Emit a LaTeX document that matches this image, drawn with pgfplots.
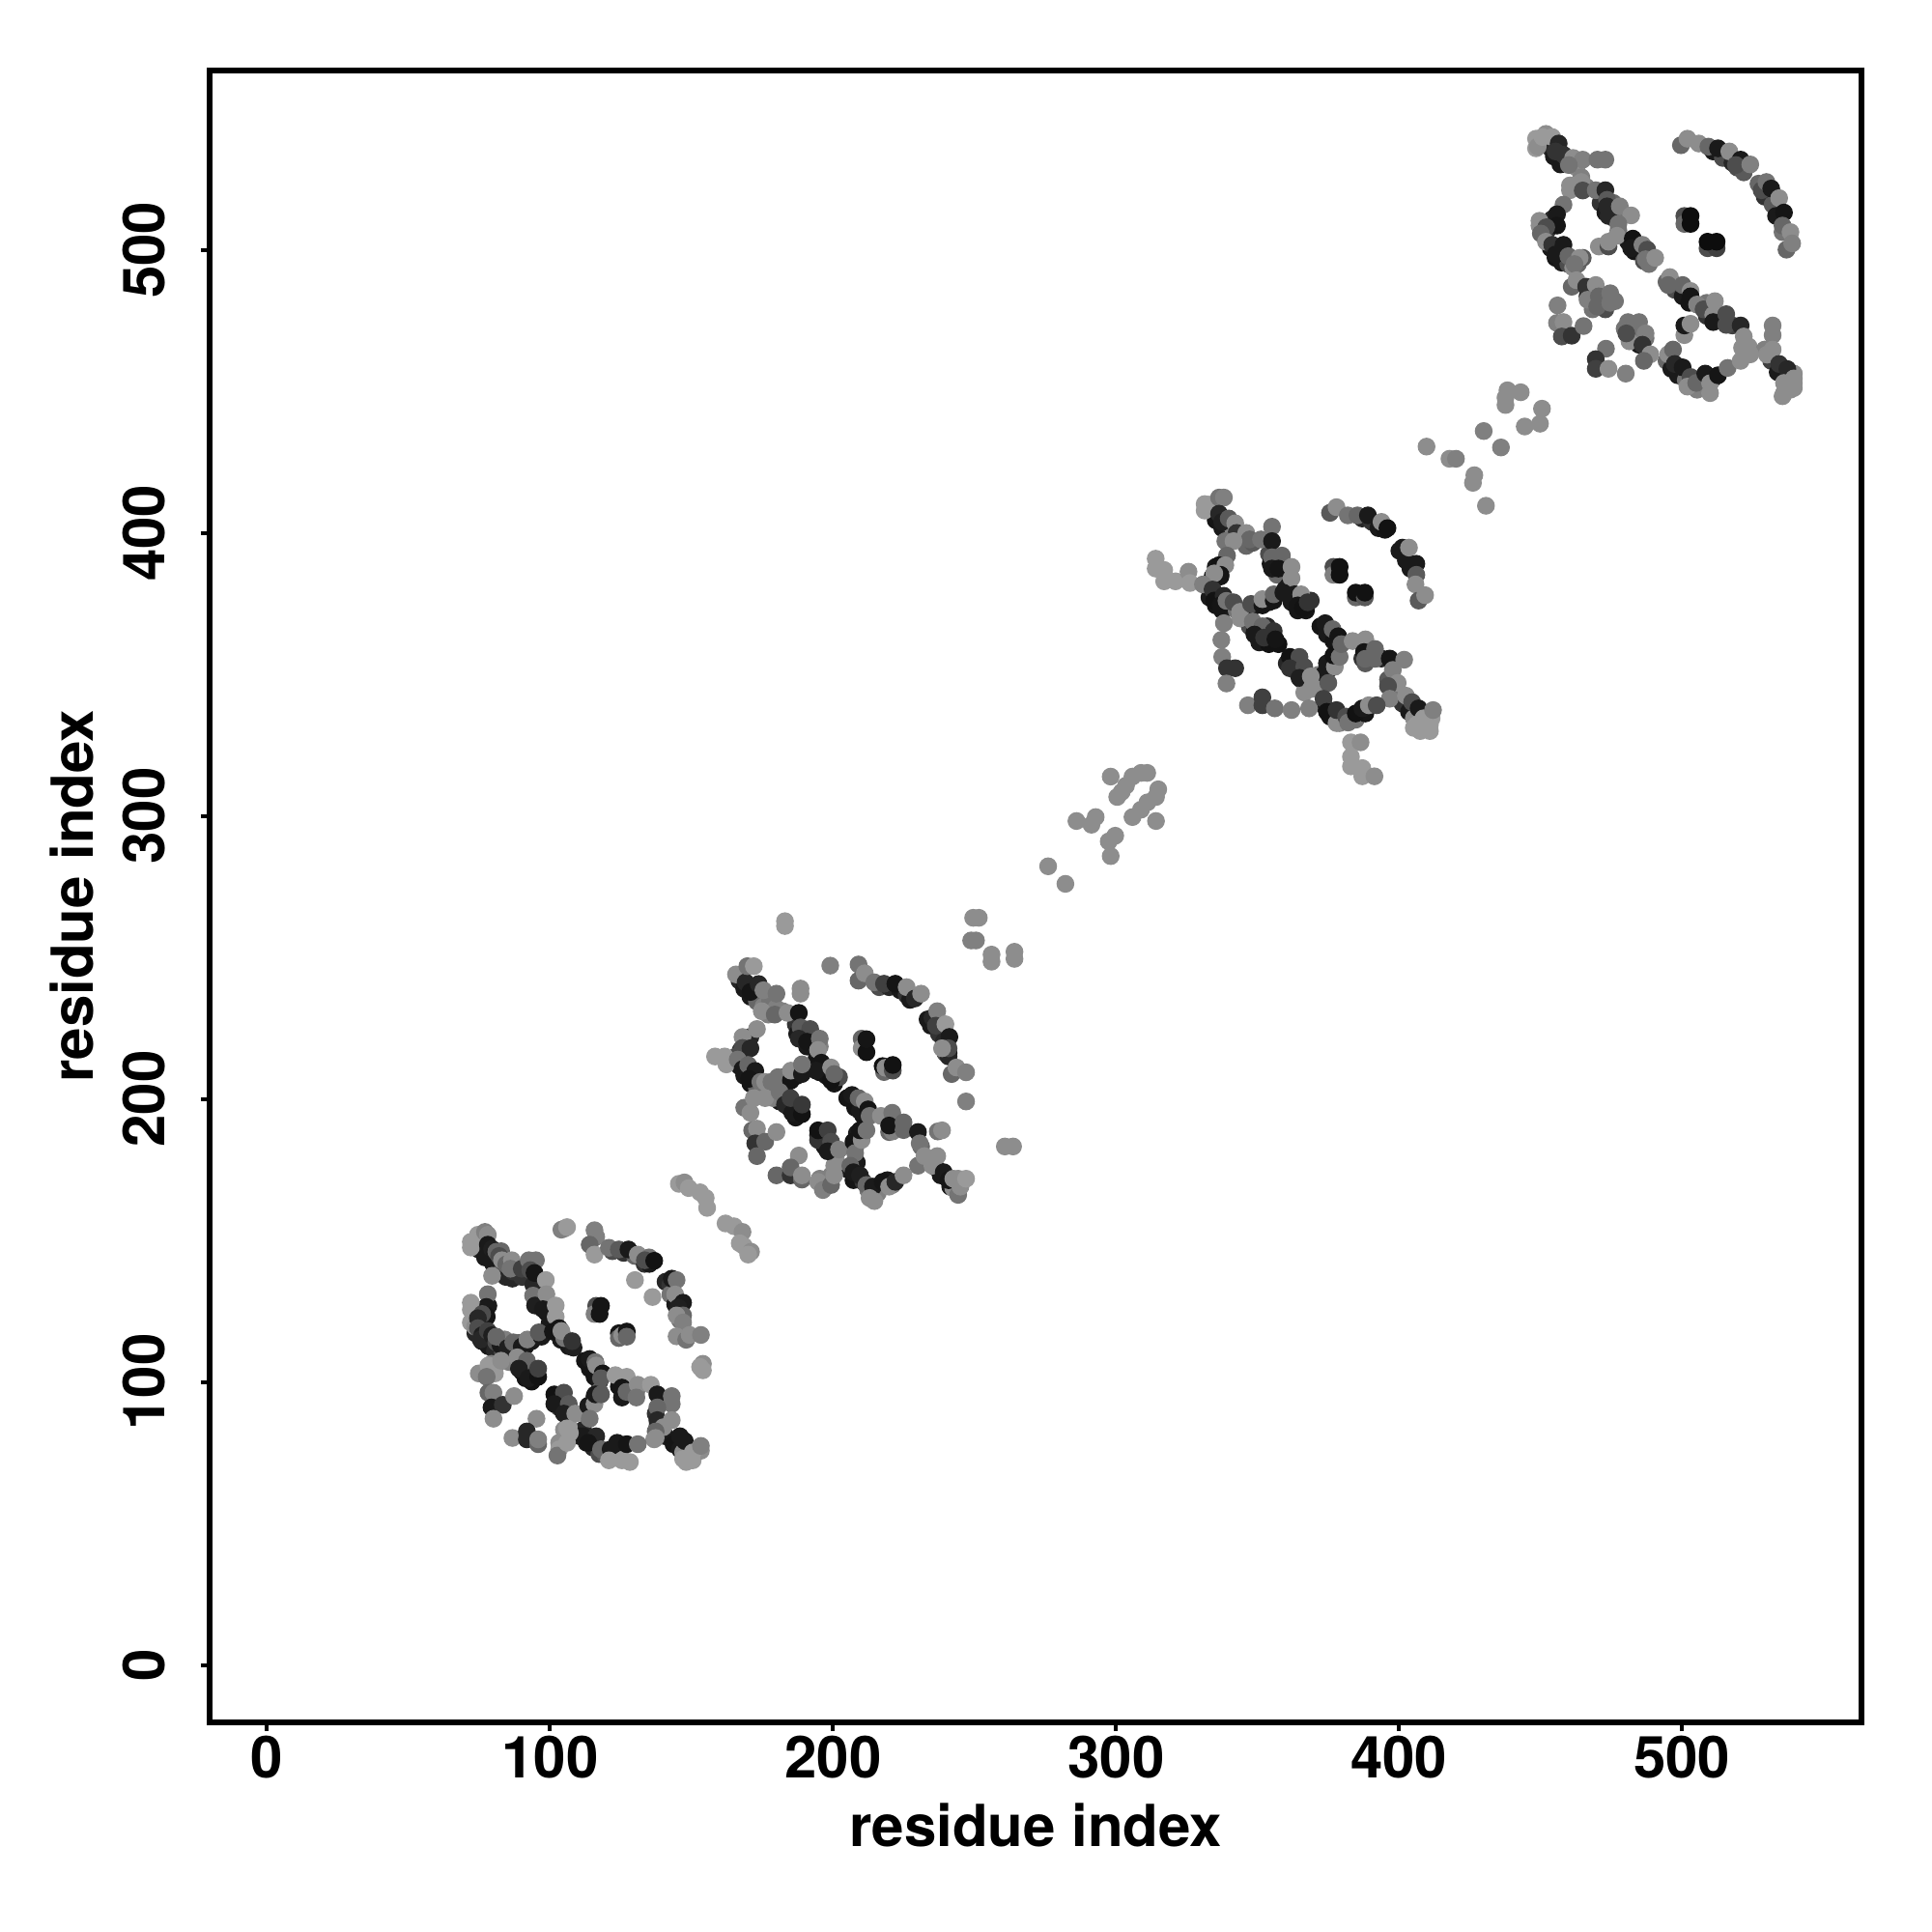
\documentclass[border=0pt]{standalone}
\usepackage{fontspec}
\setmainfont{TeX Gyre Heros}
\usepackage{pgfplots}
\pgfplotsset{compat=1.18}
\begin{document}
\begin{tikzpicture}
\path[use as bounding box] (0,0) rectangle (500pt,500pt);
\begin{axis}[
  at={(54.25pt,54.25pt)},anchor=south west,
  scale only axis,width=427.5pt,height=427.5pt,
  xmin=-20.3,xmax=563.4,ymin=-20.3,ymax=563.4,
  xtick={0,100,200,300,400,500},ytick={0,100,200,300,400,500},
  xtick pos=bottom,ytick pos=left,tick align=outside,
  major tick length=2.3pt,
  every tick/.style={black,line width=1pt},
  axis line style={line width=1.5pt},
  font=\fontsize{15}{15}\selectfont\bfseries,
  /pgf/number format/assume math mode=true,
  xticklabel style={anchor=base,yshift=-12pt},
  yticklabel style={rotate=90,anchor=base,yshift=9.25pt},
  xlabel={residue index},ylabel={residue index},
  xlabel style={at={(axis description cs:0.5,-0.0749)},anchor=base},
  ylabel style={at={(axis description cs:-0.0702,0.5)},anchor=base,rotate=0},
  colormap={bw}{gray(0cm)=(0); gray(1cm)=(1)},
  point meta min=0,point meta max=1,
]
\addplot[scatter,only marks,mark=*,mark size=2.15pt,
  mark options={line width=0.3pt},
  scatter/use mapped color={draw=mapped color,fill=mapped color},
  scatter src=explicit] table[meta=c] {
x y c
74.8 146.8 .15
77 144 .1
79.9 141.7 .1
82.2 138.3 .3
84.4 137.1 .15
86.7 136.5 .15
90.1 137.1 .2
82.7 146.2 .4
94.1 134.3 .15
95.2 129.1 .3
97.5 129.1 .1
98.7 124.6 .08
99.8 120.6 .1
101.5 117.8 .08
103.8 114.9 .1
106.6 112.6 .1
108.3 112.1 .12
73.6 117.2 .15
75.9 114.4 .1
78.2 112.6 .1
80.5 111 .15
83.3 110.4 .3
85.6 112.6 .45
89 113.8 .4
91.3 112.6 .08
93.5 114.4 .1
78.2 126.9 .1
77.6 122.9 .08
74.8 121.8 .15
74.2 125.2 .4
90.1 103.6 .1
91.3 101.3 .08
93.5 100.1 .07
94.1 103.6 .15
79.3 106.4 .5
83.3 107.5 .45
85.6 107 .5
80.5 103 .6
112.3 107.5 .08
114 104.7 .08
115.7 101.8 .08
117.4 100.1 .1
124.3 98.4 .08
125.4 94.5 .1
130.5 96.7 .45
137.3 88.8 .2
137.9 84.2 .3
140.8 80.8 .1
143.6 78 .08
145.9 76.2 .1
148.1 74.5 .55
150.4 72.3 .6
148.1 71.7 .6
153.3 75.7 .55
147 75.1 .55
102.6 92.7 .2
103.2 91 .3
104.4 89.9 .1
111.7 83.1 .15
110.6 80.8 .1
112.9 78.5 .1
115.2 76.8 .15
117.4 74.5 .3
119.7 74 .35
122.6 76.2 .1
124.3 77.4 .5
124.8 74.5 .55
113.5 87.6 .45
114 91.6 .1
115.7 95 .1
117.4 96.7 .4
104.9 83.1 .55
106.6 84.2 .6
104.9 78.5 .55
103.2 78.5 .55
122 146.2 .3
126 145.6 .2
130 144.5 .4
133.4 141.7 .2
135.1 141.7 .1
140.8 135.4 .15
142.5 134.3 .2
142.5 130.9 .45
144.2 127.4 .1
145.9 121.8 .45
166.9 241.8 .15
168.6 238.9 .1
170.8 236.1 .1
173.1 234.4 .4
175.4 232.7 .5
177.7 234.4 .45
179.9 232.1 .5
177.1 229.8 .5
182.2 231 .5
186.8 226.4 .2
187.3 223 .1
190.2 223 .15
190.8 218.5 .1
194.2 214.5 .1
193 211.6 .08
195.3 209.4 .08
197.6 208.2 .08
200.4 205.4 .08
202.1 207.7 .3
195.3 218.5 .5
167.4 217.3 .2
165.7 215 .3
166.9 211.6 .1
168.6 208.2 .1
170.8 205.4 .08
173.1 203.7 .4
175.4 203.7 .5
178.2 203.7 .5
182.8 207.7 .1
183.9 205.9 .08
187.3 208.2 .1
184.5 196.9 .08
186.8 193.4 .08
188.5 194.6 .1
181.1 199.1 .1
178.8 200.3 .5
205 200.3 .08
207.8 196.9 .08
210.7 194 .08
209.5 195.7 .1
219.8 192.3 .1
219.8 188.3 .4
223.2 191.2 .1
231.1 183.2 .4
234 178.1 .3
236.3 175.8 .15
238 173 .1
241.4 169 .1
243.6 169.6 .5
242.5 168.4 .55
244.2 171.8 .55
205 175.2 .1
207.2 171.3 .08
210.7 170.7 .2
212.4 167.8 .45
215.8 166.7 .5
219.2 171.3 .1
220.9 169.6 .45
208.4 177.5 .1
207.8 182.6 .4
208.4 187.8 .1
194.7 187.2 .12
197 183.2 .1
199.9 180.9 .5
201 178.7 .55
199.3 173 .5
195.3 171.8 .5
216.3 239.5 .3
219.8 239.5 .15
223.7 238.4 .1
226 236.7 .2
227.2 235 .1
233.4 228.1 .1
234.5 225.9 .1
237.4 223 .2
239.1 220.2 .15
240.8 216.2 .08
239.7 216.2 .3
334.1 407.9 .15
335.2 404.5 .08
337.5 401.7 .1
340.9 400 .15
343.8 398.2 .4
346 395.4 .4
341.5 401.1 .5
348.3 396.5 .35
354 392.6 .3
354.6 389.1 .08
357.4 386.9 .1
356.9 385.2 .4
359.7 380 .1
362 375.5 .1
364.2 372.6 .08
367.1 372.6 .08
368.8 376.1 .2
360.8 381.2 .1
335.2 388 .1
334.1 384.6 .08
336.9 384.6 .08
332.4 381.2 .2
333 377.2 .1
335.2 374.4 .08
337.5 372.6 .08
339.8 373.8 .1
344.9 371 .5
342.6 372.6 .45
347.7 373.2 .1
354 375.5 .1
347.2 367 .3
348.9 364.7 .1
350.6 361.3 .1
354 360.7 .07
357.4 360.7 .07
353.4 367 .15
360.3 353.9 .15
363.1 351.6 .1
365.4 348.2 .2
366.5 343.6 .55
371.6 349.9 .5
372.2 367 .08
374.5 364.1 .1
376.8 361.8 .08
379 361.8 .1
374.5 353.9 .1
373.3 349.9 .1
387 355.6 .2
388.1 353.9 .35
390.4 357.3 .4
393.8 355.6 .15
373.3 339.1 .1
375.6 335.1 .08
379 334.5 .1
382.4 333.4 .15
384.7 334 .45
388.1 336.2 .08
396.1 348.2 .35
398.4 343.6 .45
401.2 339.7 .2
403.5 336.8 .1
405.2 334.5 .55
407.5 330 .6
410.9 330 .6
405.2 331.1 .6
408.6 331.1 .6
379 332.8 .5
387 405.1 .15
390.4 403.9 .2
392.7 401.7 .1
395 401.1 .08
400.1 393.7 .1
402.4 390.3 .1
404 387.4 .1
448.4 539.3 .6
451.9 541 .55
448.4 535.9 .6
453.6 535.9 .15
454.7 533 .1
457 530.2 .1
459.8 531.4 .45
462.7 529.1 .55
464.4 525.7 .5
460.4 522.8 .55
466.1 522.3 .5
471.2 516.6 .2
472.9 513.2 .1
475.7 516.6 .4
476.3 510.9 .4
477.5 506.9 .45
480.9 502.9 .1
483.1 499.5 .08
486.5 496.1 .3
488.3 495 .45
454.1 510.9 .15
452.4 506.9 .2
449.6 508.6 .55
453.6 500.6 .1
455.3 497.2 .08
457.5 495.5 .1
459.8 495 .3
461.5 493.8 .55
463.2 495 .4
457.5 499.5 .08
466.6 483.6 .1
470.1 481.3 .1
472.9 479 .3
476.3 481.9 .45
468.4 479 .45
479.7 472.2 .45
482 468.8 .2
484.8 466.5 .1
483.7 468.8 .45
487.1 468.8 .45
494.5 488.7 .4
497.4 485.9 .3
500.2 483.6 .1
502.5 481.3 .08
508.7 476.7 .2
511.6 476.7 .2
515 475.6 .25
517.8 473.3 .25
508.7 481.3 .45
521.2 465.4 .55
523.5 465.9 .55
531.5 460.8 .25
533.8 456.8 .1
536 455.1 .1
539.5 456.3 .55
535.5 448.3 .55
538.3 450.6 .55
539.5 452.9 .55
529.2 464.8 .5
494.5 460.8 .4
496.2 458 .1
498.5 455.7 .1
501.3 454 .45
504.2 451.7 .1
507 453.4 .1
509.3 451.7 .5
511 454.6 .1
505.3 450.6 .5
511 534.8 .1
514.4 532.5 .3
517.8 530.8 .15
519.5 529.1 .3
521.8 527.4 .35
527 523.4 .4
529.2 518.8 .2
532 516 .35
533.2 512 .1
535.5 506.3 .45
72 149.5 .6
72 147.5 .6
74.5 152 .6
77 153 .5
78 152 .55
78 148.5 .1
79.5 147 .12
80.5 145.5 .1
81 146 .4
82 144.5 .3
83 143 .55
84.5 141.5 .4
86.5 143 .55
87 139 .2
86 140 .45
90 140 .25
92.5 143 .45
95 143 .45
93 139.5 .3
94.5 138.5 .08
98.5 136 .6
79.5 137.5 .55
78 131 .45
77.5 126.5 .1
77.5 123.5 .08
72 128 .6
72 125.5 .6
72 121 .6
73.5 119.5 .55
76 124 .3
74.5 122.5 .15
74.5 119 .3
76 116.5 .12
75.5 115 .15
78 118 .25
79.5 116.5 .12
81 114 .3
82.5 113 .1
84 115 .5
81 116 .4
85 112 .12
87 114 .4
90 112.5 .1
92 115 .5
97 116 .1
96 117.5 .35
94 130.5 .45
94.7 127 .12
98.7 131 .55
97.5 125.7 .1
102 127 .6
102 123 .6
101 117.8 .08
103.2 119 .08
105 115.5 .45
104 118 .55
107.8 114.4 .2
114 108.1 .1
116 107 .45
116.3 105.8 .55
118.6 103 .08
118 101.3 .35
123.1 102.4 .6
127.1 101.8 .6
125.4 98 .08
127 96.5 .4
131 99 .55
130.5 94.5 .45
135.6 99 .6
137.9 95.6 .1
143 95 .45
143 92.2 .45
137.9 91 .4
137.9 86.5 .15
143 86.5 .55
140 84 .55
137.3 82.5 .4
136.8 79.7 .55
145.9 80.8 .1
147.6 79.1 .1
147 72.8 .6
150 72.8 .6
150.4 75.1 .6
153.3 77.4 .5
101.5 95.6 .07
104.9 96.2 .3
101.5 92.2 .1
106.6 92.2 .35
104.9 88.8 .12
108.9 88.8 .55
106 83.6 .6
113.5 91.6 .1
115.7 92.2 .55
116 95.6 .1
118 95.6 .35
114 87 .45
111.7 80.8 .1
116.3 80.8 .15
113.5 78.5 .08
118 76.2 .4
123.7 78.5 .1
121.4 76.2 .1
120.8 72.3 .6
125.4 72.3 .6
128.2 71.7 .6
127.1 78 .08
131 78 .45
137.3 80.2 .55
103.2 76.2 .6
102.6 74 .45
106 78.5 .6
107 82 .6
74.8 103 .55
78.2 105.8 .6
77.6 101.8 .45
82.7 107.5 .55
88.4 108.7 .55
91.8 107.5 .4
89 104.7 .12
92.4 101.3 .1
95.8 101.8 .07
95.8 104.7 .25
78.2 96.2 .4
80 96.2 .5
79.3 91 .1
83.3 91.9 .2
87.3 95 .55
80 87 .55
86.7 80.2 .55
95.2 87 .55
91.8 82.5 .15
91.8 79.7 .15
95.8 78 .4
95.8 79.7 .5
115.7 153.6 .5
116.3 151.3 .5
114 148.5 .4
115.7 145 .6
120.8 147.4 .45
124.3 146.8 .35
127.7 146.8 .1
131 145 .55
135 144 .45
133.5 143 .3
136.8 142.8 .07
143 136.5 .1
144.7 136 .45
144.2 130.9 .55
147 128 .1
145.3 126.3 .12
147 123.5 .4
144.7 123.5 .55
147 121 .5
144.7 116.1 .55
148.1 114.9 .45
149.3 116.6 .55
153.3 116.6 .5
154 106.4 .55
154 104.1 .6
153 105.3 .6
105.1 154.2 .55
104 153.8 .5
106 154.7 .6
130 136 .6
136.2 130 .6
116.3 126.9 .3
115.7 124 .5
117.5 124 .08
118 126.9 .08
124.3 117.2 .08
124.3 115.5 .4
125.5 116.5 .55
127.1 117.8 .08
127.1 116 .4
145.5 170 .6
147.5 170.5 .55
149 168.5 .6
153 167 .6
155 165 .6
155.5 161.5 .6
162 156 .6
165 155 .6
168 153 .55
167 149 .6
168.5 148 .6
171 146 .55
170 145 .6
183 262.8 .6
183 261.1 .6
199 247.1 .5
249.5 264 .55
251.5 264 .55
248.8 256 .5
250.5 256 .5
256 251 .55
256 248.5 .55
264.1 252 .55
264.1 249.5 .55
247 199.1 .5
260.7 183.2 .55
263.6 183.2 .55
165.7 244 .55
169.1 241.2 .15
169.7 246.9 .45
172 246.9 .6
170.8 237.8 .08
173.7 240.6 .15
175.4 238.4 .5
180 237.2 .45
188.5 239 .55
188.5 237.2 .55
174.8 231 .55
179.4 229.8 .4
183.9 230.4 .55
187.9 230.4 .08
188.5 225.3 .35
191.9 224.7 .3
187.9 221.3 .15
190.8 220.2 .08
195.3 221.3 .45
194.7 217.3 .55
195.9 212.8 .08
194 210 .1
199.3 206.5 .07
199.3 211.1 .55
200.4 208.8 .4
170.8 221.9 .15
173.1 224.7 .55
168 221.9 .55
168 218 .3
170.8 217.9 .15
158.3 215 .6
161.7 215 .6
162.3 212.2 .6
166.3 213.9 .45
168 210.5 .1
170 212 .4
172.5 209.9 .1
170.3 207.1 .08
174.3 206 .45
176 206 .55
178.2 206 .45
180.5 207.7 .45
185.1 206.5 .08
185.1 210 .55
189 208.8 .1
189 212.2 .45
168.6 196.9 .45
170.8 195.1 .55
172 200.3 .55
176 200.3 .55
181.1 202.5 .45
183 198 .15
185.6 195.1 .1
185 200.3 .25
189 194.6 .07
189 198 .22
171.4 188.9 .4
173.1 189.5 .55
172.5 184.3 .2
176 184.9 .4
180 188.3 .55
173.1 179.8 .4
180 173 .4
187.9 180 .55
185 173 .2
185 175.8 .4
189 171.5 .4
189 173 .55
194.7 170.7 .55
196.4 167.8 .5
199.3 169.6 .4
200.4 173 .55
200.4 176.4 .55
194.7 185.5 .2
194.7 188.9 .07
198.1 188.9 .25
199.3 184.9 .3
198.1 181.5 .1
202.1 182.1 .5
207.2 184.9 .08
207.8 180.9 .45
210.1 185.5 .55
209.5 188.9 .08
211.8 188.9 .45
206.7 201.4 .1
209 200.3 .4
211.2 199.1 .55
212.4 196.3 .08
212.9 194 .45
216.9 194 .55
220.9 195.1 .45
221 188.5 .5
219.8 190.6 .08
224.9 189 .4
224.9 191.7 .4
230 188.3 .1
230.6 184.3 .45
237 188.5 .45
238.5 188.9 .55
230 176.4 .45
232.3 179.8 .55
236.8 179.8 .55
235.1 176.4 .55
239.1 174.1 .1
240.8 171.3 .08
244.2 166.1 .45
242.5 171.8 .55
245 169 .55
247 171.8 .6
206.1 176.4 .4
207.2 174.1 .1
209.5 173 .12
211.8 169.6 .4
214.1 169 .1
212.9 165 .55
214.6 163.9 .55
217.5 170.7 .08
219.8 169 .55
222 170.7 .15
224.9 173 .55
209 247.5 .45
209 241.8 .4
211.2 244.4 .55
214.6 241.2 .45
218 240.7 .25
222 240.7 .08
226 239.5 .55
228.9 235.5 .15
231.1 237.2 .55
235.1 228.7 .15
236.8 231 .5
236.3 225.9 .25
239.7 226.4 .6
241.1 221.9 .1
240.8 215 .15
240.8 217.9 .3
238.5 217.9 .55
241.9 208.8 .4
243.6 211.1 .55
247 209.4 .5
210.1 221.3 .4
210.1 217.9 .55
211.8 216.5 .07
211.8 221.1 .08
218 209.5 .4
217.5 211.6 .07
218.5 211 .55
221.1 210 .3
221.1 212 .07
331.3 410.2 .6
331.3 407.9 .6
333 410 .6
336.4 412.5 .45
338.1 412.5 .5
336.4 406.8 .15
337.5 403.9 .12
339.8 405.1 .35
342.1 403.4 .55
342.6 400 .2
346 400 .55
347.2 397.7 .4
351.2 397.7 .45
355.1 402.2 .45
355.1 397.1 .1
338.6 397.1 .45
341.5 397.1 .55
339.2 392 .4
336.4 388.6 .07
338.6 388.6 .55
336.9 385.2 .08
334.7 385.7 .55
314 390.9 .6
314 387.4 .6
317 386.9 .6
317 382.9 .6
321 382.9 .6
325.6 386.3 .55
326.1 382.3 .6
330.7 381.8 .5
334.1 380 .2
334.7 376.1 .07
338 377.8 .15
336.9 374.4 .08
339 376 .45
341.5 375.5 .3
343.8 372.1 .55
347.7 374.9 .3
351.7 374.4 .08
351.7 376.6 .55
355.7 376.1 .08
355.7 378.3 .4
355.1 391.4 .4
358.6 392 .4
355.1 387.4 .1
357.4 387.4 .08
362 388 .55
362 384 .55
359.1 378.9 .1
363.1 378.3 .1
365.4 378.3 .55
364.2 374.4 .08
366 373.5 .07
367.7 375.5 .2
343.8 369.8 .55
348.3 368.7 .45
351.7 367 .4
348.9 364.1 .1
352.3 363 .2
355.7 365.3 .2
356.3 362.4 .08
338.1 368.1 .5
337.2 362.2 .5
337.5 356.2 .5
339.2 352.2 .2
342.1 352.2 .2
339 346.8 .5
346.6 339.1 .5
351.7 341.9 .25
351.7 339.1 .25
356.1 338 .45
362 337.4 .5
368.2 338 .5
361.4 356.2 .07
364.8 356.2 .3
361.4 352.2 .2
366.5 352.7 .3
364.8 348.8 .12
368.8 349.3 .55
368.8 344.8 .55
371 344.8 .55
375 351.6 .1
377.3 352.7 .55
376.8 356.7 .07
379 356.2 .45
375 347 .35
373.9 368.1 .1
376.5 366 .4
378.5 363.5 .08
379.6 360.7 .4
383.6 361.8 .55
388.1 362.4 .55
387.6 357.9 .08
388 355.5 .4
391.5 359 .4
391.5 355.5 .4
396.7 355.6 .08
401.8 355.2 .5
397.8 351.6 .5
399.5 347 .55
396.1 345.9 .3
396.7 341.4 .5
402.4 342.5 .55
404.6 340.2 .3
406.9 338 .1
406.3 332.3 .6
410.9 332.3 .6
408.6 334.5 .6
411.5 334.5 .6
412 337.4 .5
373.3 341.4 .25
374.5 336.8 .07
377.9 332.8 .55
377.9 337.4 .2
381.3 335.1 .3
382 333 .45
384.7 336.2 .07
387 338 .1
389.3 339.1 .55
392.1 339.1 .3
383 326 .6
386.4 326 .55
383 320.9 .6
383 317.5 .6
387 316.9 .6
387 314 .6
391.3 314 .55
375.6 407.1 .35
377.9 409.1 .55
381.9 406.2 .45
385.3 406.2 .4
389 406.2 .1
393.8 403.9 .55
395.9 401.7 .07
401.2 394.8 .1
403.5 394.8 .55
406.1 389.1 .1
406.1 385.2 .35
405.8 381.8 .55
406.9 376.1 .35
409.2 378 .55
376.8 388 .3
376.8 385.2 .5
379 388 .07
379 385.2 .07
384.7 377.2 .4
384.7 378.9 .07
387.9 377.2 .35
387.9 378.9 .07
449 536.5 .55
450.7 539.9 .6
454.1 539.9 .6
456.4 537.6 .15
455.3 534.8 .2
458.1 533.6 .2
461.5 532.5 .55
464.9 531.9 .5
470.1 531.9 .45
472.9 531.9 .45
460 530 .45
464.4 524 .55
461.5 522.8 .55
460.4 521.1 .55
464.9 521 .3
469.5 521.1 .45
472.9 521.1 .15
458.1 516 .45
455.8 512.6 .1
455.8 508.6 .08
449.6 510.3 .55
452 508 .3
450.1 505.8 .4
451.9 502.9 .55
454.1 501.8 .2
455.3 498.4 .1
458.1 501.8 .1
459.8 497.8 .4
464.9 497.2 .35
463.8 497.2 .55
462 495 .45
470.6 501.2 .55
474 501.2 .3
474 502.9 .55
473.5 517.7 .35
473.5 515.4 .15
474 512 .15
478 515.4 .5
482 512.2 .55
477.5 509.2 .45
477 505 .55
482.6 504 .07
482 500.6 .1
486 501.8 .5
487.7 500.1 .3
487.1 496.7 .45
490.5 497.2 .55
461 487 .4
462.7 489.3 .55
466.1 487 .2
469.5 487.6 .55
466.6 482.4 .5
470.6 483.6 .4
470 480 .4
474.6 484.7 .45
474.6 481.3 .45
456 480.4 .5
455.8 474.2 .5
458.1 474.5 .55
457.5 469.4 .3
461 469.7 .2
465.2 473.1 .45
473.1 465.1 .45
469.5 461.4 .2
469.5 458 .25
474 458 .55
480.1 456.3 .5
480.9 474.5 .45
484.8 474.5 .45
481.4 467.7 .55
480.3 470.5 .3
487.1 470.5 .5
486 466.5 .2
488.8 463.1 .55
486.5 460.8 .4
500.8 469.9 .55
500.8 473.3 .1
503 473.9 .55
495.1 463.1 .55
496.8 464.8 .4
497.4 459.7 .15
500.2 458.5 .1
503 455.1 .3
501.9 451.7 .55
505 453 .4
508.2 456.3 .1
509.9 452.9 .55
509.9 449.4 .55
512.7 455.7 .08
516.1 458.3 .45
495.7 490.4 .55
495.1 487.6 .4
500.2 487.6 .4
503 485.5 .55
503 483.6 .08
505.3 480.7 .5
507.6 479 .3
511.6 481.9 .55
511 477 .55
511 474.5 .1
515.6 477.3 .3
515.6 473.5 .3
520.7 473.3 .15
521.8 469.4 .55
524.1 463.1 .55
520.7 460.8 .55
532 473.3 .5
532 469.9 .5
532 464.8 .55
530 463 .55
534.3 459.7 .2
537.2 457.9 .15
536 449.4 .55
536 453 .55
539.5 454.6 .55
539.5 451.2 .55
499.6 537 .4
501.9 539.3 .55
505.9 537.6 .55
509.3 536.5 .4
512.7 535.9 .1
516.7 534.8 .55
520.7 531.9 .1
519 530 .3
524.1 530.2 .5
528.1 521.1 .3
529.8 524 .45
531.5 521.7 .1
534.3 518.3 .55
536 513.2 .08
535.5 508.6 .4
538.3 506.3 .55
536.9 500.1 .4
538.9 502.3 .5
500.8 512 .3
500.8 509.2 .4
503 512 .05
503 509.2 .05
509 500.6 .3
512.2 500.6 .25
509 502.9 .05
512.2 502.9 .05
298.1 313.9 .55
308.8 315.2 .55
311 315.2 .55
305.8 313.9 .55
303.5 310.7 .55
300.4 306.7 .55
302 308.5 .55
314.9 309.4 .55
314.1 306.7 .55
311.1 304.8 .55
308.8 302.2 .55
305.8 299.6 .55
314.1 298.2 .55
286 298.2 .55
292.8 299.6 .55
291.3 296.9 .55
299.7 293 .55
297.4 291 .55
298.1 285.8 .55
276 282.2 .55
282.1 276 .55
409.7 430.5 .55
417.8 426.2 .55
420.1 426.2 .5
426.6 420.4 .55
426.1 417.7 .55
430.7 409.6 .55
429.9 436 .5
436 430.2 .5
444.4 437.6 .55
449.8 438.6 .55
450.5 443.9 .55
437.6 445.2 .55
437.6 447.8 .55
443 449.7 .55
438.3 450.4 .55
}; 
\end{axis}
\end{tikzpicture}
\end{document}
